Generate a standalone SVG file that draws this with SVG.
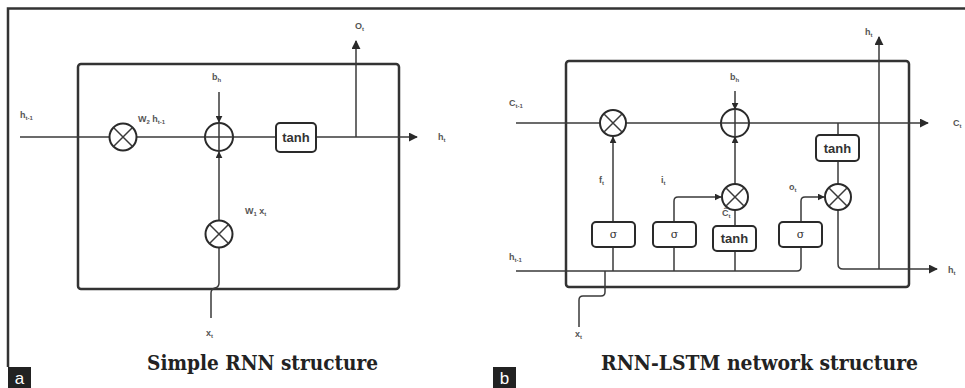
<svg xmlns="http://www.w3.org/2000/svg" width="965" height="388" viewBox="0 0 965 388">
<defs>
<marker id="ah" viewBox="0 0 10 10" refX="9" refY="5" markerWidth="7" markerHeight="7" markerUnits="userSpaceOnUse" orient="auto"><path d="M0,0 L10,5 L0,10 z" fill="#2a2a2a"/></marker>
<marker id="ahb" viewBox="0 0 10 10" refX="9" refY="5" markerWidth="9" markerHeight="9" markerUnits="userSpaceOnUse" orient="auto"><path d="M0,0 L10,5 L0,10 z" fill="#2a2a2a"/></marker>
</defs>
<style>
.frame{fill:none;stroke:#333;stroke-width:2.5}
.cell{fill:none;stroke:#333;stroke-width:2.5}
.ln{fill:none;stroke:#3a3a3a;stroke-width:1.5}
.op{fill:#fff;stroke:#2a2a2a;stroke-width:2}
.box{fill:#fff;stroke:#2a2a2a;stroke-width:2}
.lbl{font-family:"Liberation Sans",Arial,sans-serif;font-size:9px;font-weight:bold;fill:#555}
.sub{font-size:6px}
.bt{font-family:"Liberation Sans",Arial,sans-serif;font-size:13px;font-weight:bold;fill:#333;text-anchor:middle}
.sg{font-family:"DejaVu Serif",serif;font-size:11px;fill:#333;text-anchor:middle}
.title{font-family:"DejaVu Serif","Liberation Serif",serif;font-size:21px;font-weight:bold;fill:#222}
.tag{font-family:"Liberation Sans",Arial,sans-serif;font-size:17px;fill:#fff;text-anchor:middle}
</style>
<rect width="965" height="388" fill="#fff"/>
<path class="frame" d="M8 367 V8.5 H965" stroke-width="2"/>
<g id="tag-a"><rect x="8" y="367" width="23" height="21" fill="#222"/><text class="tag" x="19.5" y="384">a</text></g>
<g id="tag-b"><rect x="493" y="367" width="23" height="21" fill="#222"/><text class="tag" x="504.5" y="384">b</text></g>

<!-- Panel a -->
<g id="rnn-cell"><rect class="cell" x="78" y="64" width="321" height="225" rx="3"/></g>
<g id="rnn-connectors">
<path class="ln" d="M20 137 H417" marker-end="url(#ahb)"/>
<path class="ln" d="M219 92 V122" marker-end="url(#ah)"/>
<path class="ln" d="M219 220 V152" marker-end="url(#ah)"/>
<path class="ln" d="M356 137 V41" marker-end="url(#ahb)"/>
<path class="ln" d="M211 318 V293 Q211 289 215 288 Q219 287 219 283 V248" stroke-width="2"/>
</g>
<g id="rnn-mul1"><circle class="op" cx="123" cy="137" r="13.5"/><path class="ln" stroke-width="2" d="M113.5 127.5 L132.5 146.5 M132.5 127.5 L113.5 146.5"/></g>
<g id="rnn-add"><circle class="op" cx="219" cy="137" r="14"/><path class="ln" stroke-width="2" d="M205 137 H233 M219 123 V151"/></g>
<g id="rnn-mul2"><circle class="op" cx="219" cy="234" r="13.5"/><path class="ln" stroke-width="2" d="M209.5 224.5 L228.5 243.5 M228.5 224.5 L209.5 243.5"/></g>
<g id="rnn-tanh"><rect class="box" x="276" y="123" width="40" height="29" rx="4"/><text class="bt" x="296" y="142">tanh</text></g>
<g id="rnn-labels">
<text class="lbl" x="20" y="118">h<tspan class="sub" dy="2">t-1</tspan></text>
<text class="lbl" x="138" y="122">W<tspan class="sub" dy="2">2</tspan><tspan dy="-2"> h</tspan><tspan class="sub" dy="2">t-1</tspan></text>
<text class="lbl" x="212" y="80">b<tspan class="sub" dy="2">h</tspan></text>
<text class="lbl" x="355" y="29">O<tspan class="sub" dy="2">t</tspan></text>
<text class="lbl" x="438" y="140">h<tspan class="sub" dy="2">t</tspan></text>
<text class="lbl" x="245" y="214">W<tspan class="sub" dy="2">1</tspan><tspan dy="-2"> x</tspan><tspan class="sub" dy="2">t</tspan></text>
<text class="lbl" x="206" y="336">x<tspan class="sub" dy="2">t</tspan></text>
</g>
<text class="title" x="147" y="370" textLength="231" lengthAdjust="spacingAndGlyphs">Simple RNN structure</text>

<!-- Panel b -->
<g id="lstm-cell"><rect class="cell" x="566" y="61" width="343" height="226" rx="3"/></g>
<g id="lstm-connectors">
<path class="ln" d="M516 123 H928" marker-end="url(#ahb)"/>
<path class="ln" d="M735 91 V109" marker-end="url(#ah)"/>
<path class="ln" d="M838 123 V135"/>
<path class="ln" d="M838 161 V184"/>
<path class="ln" d="M879 269 V37" marker-end="url(#ahb)"/>
<path class="ln" d="M838 210 V264 Q838 269 843 269 H937" marker-end="url(#ahb)"/>
<path class="ln" d="M516 271 H797 Q801 271 801 267 V247"/>
<path class="ln" d="M613 222 V137" marker-end="url(#ah)"/>
<path class="ln" d="M613 247 V271"/>
<path class="ln" d="M674 222 V201 Q674 197 678 197 H721" marker-end="url(#ah)"/>
<path class="ln" d="M674 247 V271"/>
<path class="ln" d="M735 226 V210"/>
<path class="ln" d="M735 251 V271"/>
<path class="ln" d="M735 184 V137" marker-end="url(#ah)"/>
<path class="ln" d="M801 222 V201 Q801 197 805 197 H824" marker-end="url(#ah)"/>
<path class="ln" d="M605 271 V292 Q605 296 601 296 H583 Q579 296 579 300 V327" stroke-width="2"/>
</g>
<g id="lstm-forget-mul"><circle class="op" cx="613" cy="123" r="13"/><path class="ln" stroke-width="2" d="M604 114 L622 132 M622 114 L604 132"/></g>
<g id="lstm-add"><circle class="op" cx="735" cy="123" r="14"/><path class="ln" stroke-width="2" d="M721 123 H749 M735 109 V137"/></g>
<g id="lstm-input-mul"><circle class="op" cx="735" cy="197" r="13"/><path class="ln" stroke-width="2" d="M726 188 L744 206 M744 188 L726 206"/></g>
<g id="lstm-output-mul"><circle class="op" cx="838" cy="197" r="13"/><path class="ln" stroke-width="2" d="M829 188 L847 206 M847 188 L829 206"/></g>
<g id="lstm-tanh-out"><rect class="box" x="816" y="135" width="43" height="26" rx="4"/><text class="bt" x="837.5" y="153">tanh</text></g>
<g id="lstm-sigma-f"><rect class="box" x="592" y="222" width="43" height="25" rx="4"/><text class="sg" x="613.5" y="238">σ</text></g>
<g id="lstm-sigma-i"><rect class="box" x="653" y="222" width="43" height="25" rx="4"/><text class="sg" x="674.5" y="238">σ</text></g>
<g id="lstm-tanh-c"><rect class="box" x="713" y="226" width="43" height="25" rx="4"/><text class="bt" x="734.5" y="243">tanh</text></g>
<g id="lstm-sigma-o"><rect class="box" x="779" y="222" width="43" height="25" rx="4"/><text class="sg" x="800.5" y="238">σ</text></g>
<g id="lstm-labels">
<text class="lbl" x="509" y="106">C<tspan class="sub" dy="2">t-1</tspan></text>
<text class="lbl" x="953" y="126">C<tspan class="sub" dy="2">t</tspan></text>
<text class="lbl" x="730" y="80">b<tspan class="sub" dy="2">h</tspan></text>
<text class="lbl" x="865" y="35">h<tspan class="sub" dy="2">t</tspan></text>
<text class="lbl" x="599" y="183">f<tspan class="sub" dy="2">t</tspan></text>
<text class="lbl" x="661" y="183">i<tspan class="sub" dy="2">t</tspan></text>
<text class="lbl" x="722" y="216">Ĉ<tspan class="sub" dy="2">t</tspan></text>
<text class="lbl" x="789" y="190">o<tspan class="sub" dy="2">t</tspan></text>
<text class="lbl" x="509" y="260">h<tspan class="sub" dy="2">t-1</tspan></text>
<text class="lbl" x="948" y="273">h<tspan class="sub" dy="2">t</tspan></text>
<text class="lbl" x="575" y="337">x<tspan class="sub" dy="2">t</tspan></text>
</g>
<text class="title" x="601" y="370" textLength="317" lengthAdjust="spacingAndGlyphs">RNN-LSTM network structure</text>
</svg>
